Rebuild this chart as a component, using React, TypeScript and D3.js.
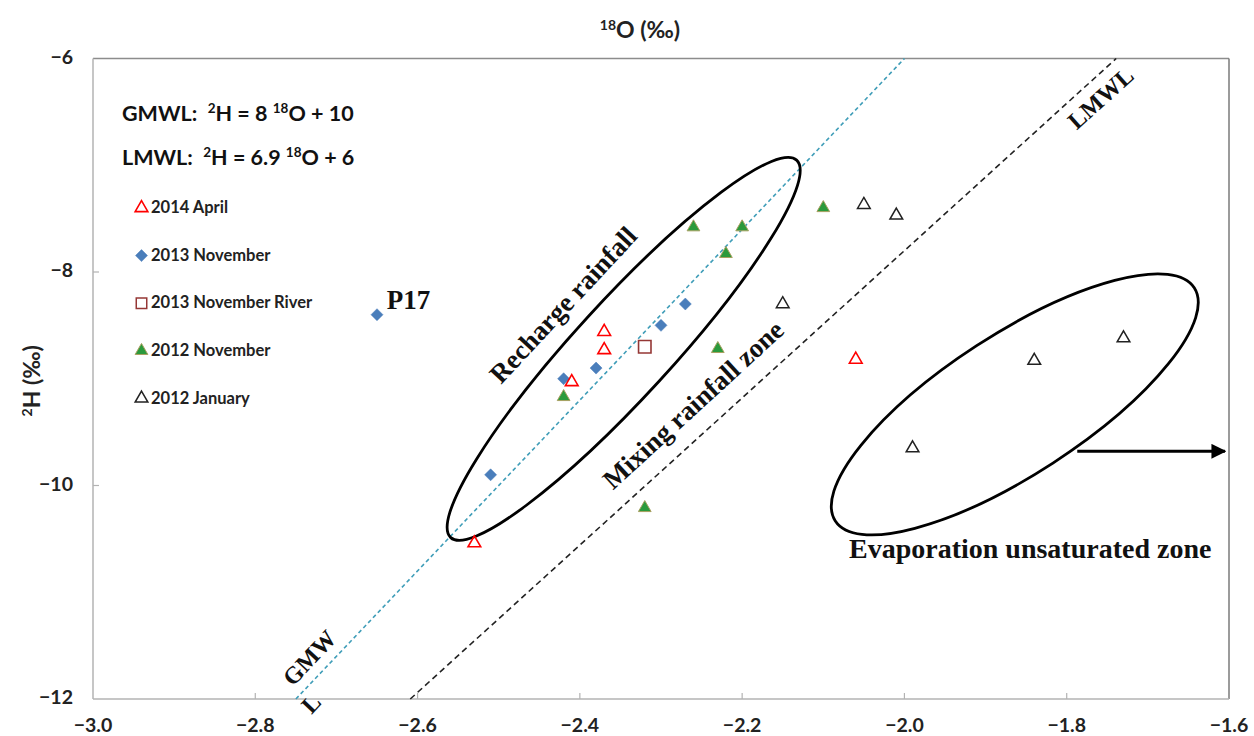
import React, { useRef, useEffect } from 'react';
import * as d3 from 'd3';

// isotope samples [d18O, d2H]
const april2014 = [[-2.37, -8.56], [-2.37, -8.73], [-2.41, -9.03], [-2.53, -10.54], [-2.06, -8.82]];
const nov2013 = [[-2.65, -8.40], [-2.51, -9.90], [-2.42, -9.00], [-2.38, -8.90], [-2.30, -8.50], [-2.27, -8.30]];
const nov2013River = [[-2.32, -8.70]];
const nov2012 = [[-2.26, -7.58], [-2.20, -7.58], [-2.22, -7.83], [-2.10, -7.40], [-2.42, -9.17], [-2.23, -8.72], [-2.32, -10.21]];
const jan2012 = [[-2.05, -7.37], [-2.01, -7.47], [-2.15, -8.30], [-1.84, -8.83], [-1.73, -8.62], [-1.99, -9.65]];

// meteoric water lines (end points)
const gmwl = [[-2.75, -12], [-2.0, -6]];
const lmwl = [[-2.609, -12], [-1.739, -6]];

const xTicks = [-3.0, -2.8, -2.6, -2.4, -2.2, -2.0, -1.8, -1.6];
const yTicks = [-6, -8, -10, -12];

const legendItems = ['2014 April', '2013 November', '2013 November River', '2012 November', '2012 January'];

const SANS = 'Lato, "Open Sans", sans-serif';
const SERIF = '"Liberation Serif", "DejaVu Serif", serif';

const App = () => {
  const svgRef = useRef(null);

  useEffect(() => {
    const width = 1254;
    const height = 736;
    const margin = { top: 58.5, right: 25, bottom: 37, left: 93 };

    const svg = d3.select(svgRef.current);
    svg.selectAll('*').remove();
    svg.attr('width', width).attr('height', height);

    const x = d3.scaleLinear().domain([-3.0, -1.6]).range([margin.left, width - margin.right]);
    const y = d3.scaleLinear().domain([-12, -6]).range([height - margin.bottom, margin.top]);

    const x0 = x(-3.0), x1 = x(-1.6), y0 = y(-12), y1 = y(-6);

    // plot frame
    svg.append('line').attr('x1', x0).attr('x2', x1).attr('y1', y1).attr('y2', y1).attr('stroke', '#8c8c8c').attr('stroke-width', 1.3);
    svg.append('line').attr('x1', x1).attr('x2', x1).attr('y1', y1).attr('y2', y0).attr('stroke', '#7a7a7a').attr('stroke-width', 1.5);
    svg.append('line').attr('x1', x0).attr('x2', x0).attr('y1', y1).attr('y2', y0).attr('stroke', '#b3b3b3').attr('stroke-width', 1.5);
    svg.append('line').attr('x1', x0).attr('x2', x1).attr('y1', y0).attr('y2', y0).attr('stroke', '#b3b3b3').attr('stroke-width', 1.5);

    // ticks (inside)
    xTicks.slice(1, -1).forEach(t => {
      svg.append('line').attr('x1', x(t)).attr('x2', x(t)).attr('y1', y0).attr('y2', y0 - 6)
        .attr('stroke', '#b3b3b3').attr('stroke-width', 1.2);
    });
    yTicks.slice(1, -1).forEach(t => {
      svg.append('line').attr('x1', x0).attr('x2', x0 + 6).attr('y1', y(t)).attr('y2', y(t))
        .attr('stroke', '#b3b3b3').attr('stroke-width', 1.2);
    });

    const minus = v => v.toString().replace('-', '\u2212');

    svg.append('g').selectAll('text').data(xTicks).enter().append('text')
      .attr('x', d => x(d)).attr('y', y0 + 28)
      .attr('text-anchor', 'middle').attr('dominant-baseline', 'middle')
      .attr('font-family', SANS).attr('font-weight', 700).attr('font-size', 19.5).attr('fill', '#222')
      .text(d => minus(d.toFixed(1)));

    svg.append('g').selectAll('text').data(yTicks).enter().append('text')
      .attr('x', x0 - 20).attr('y', d => y(d))
      .attr('text-anchor', 'end').attr('dominant-baseline', 'middle')
      .attr('font-family', SANS).attr('font-weight', 700).attr('font-size', 19.5).attr('fill', '#222')
      .text(d => minus(d));

    // axis titles
    const xt = svg.append('text').attr('x', 640).attr('y', 38).attr('text-anchor', 'middle')
      .attr('font-family', SANS).attr('font-weight', 700).attr('font-size', 23).attr('fill', '#222');
    xt.append('tspan').attr('font-size', 14).attr('dy', -8).text('18');
    xt.append('tspan').attr('dy', 8).text('O (\u2030)');

    const yt = svg.append('text').attr('transform', `translate(40,${(y0 + y1) / 2 + 2}) rotate(-90)`)
      .attr('text-anchor', 'middle')
      .attr('font-family', SANS).attr('font-weight', 700).attr('font-size', 23).attr('fill', '#222');
    yt.append('tspan').attr('font-size', 14).attr('dy', -8).text('2');
    yt.append('tspan').attr('dy', 8).text('H (\u2030)');

    // meteoric water lines
    const line = d3.line().x(d => x(d[0])).y(d => y(d[1]));
    svg.append('path').attr('d', line(gmwl)).attr('fill', 'none')
      .attr('stroke', '#3f9db8').attr('stroke-width', 1.6).attr('stroke-dasharray', '4,3');
    svg.append('path').attr('d', line(lmwl)).attr('fill', 'none')
      .attr('stroke', '#222').attr('stroke-width', 1.6).attr('stroke-dasharray', '6,4');

    // ellipses
    const ellipse = (cx, cy, rx, ry, angle) => {
      svg.append('ellipse')
        .attr('transform', `translate(${x(cx)},${y(cy)}) rotate(${angle})`)
        .attr('rx', rx).attr('ry', ry)
        .attr('fill', 'none').attr('stroke', '#000').attr('stroke-width', 2.8);
    };
    ellipse(-2.346, -8.72, 256, 48, -47.5);
    ellipse(-1.864, -9.24, 214, 70, -33);

    // arrow
    svg.append('defs').append('marker')
      .attr('id', 'arrowHead').attr('viewBox', '0 0 10 10').attr('refX', 9).attr('refY', 5)
      .attr('markerWidth', 5).attr('markerHeight', 5).attr('orient', 'auto').attr('markerUnits', 'strokeWidth')
      .append('path').attr('d', 'M0,0 L10,5 L0,10 Z').attr('fill', '#000');
    svg.append('line')
      .attr('x1', x(-1.787)).attr('y1', y(-9.68)).attr('x2', x(-1.605)).attr('y2', y(-9.68))
      .attr('stroke', '#000').attr('stroke-width', 3).attr('marker-end', 'url(#arrowHead)');

    // markers
    const tri = d3.symbol().type(d3.symbolTriangle).size(70);
    const dia = d3.symbol().type(d3.symbolSquare).size(72);
    const sq = d3.symbol().type(d3.symbolSquare).size(155);

    const drawSeries = (data, path, fill, stroke, sw, rot = 0) => {
      svg.append('g').selectAll('path').data(data).enter().append('path')
        .attr('d', path)
        .attr('transform', d => `translate(${x(d[0])},${y(d[1])}) rotate(${rot})`)
        .attr('fill', fill).attr('stroke', stroke).attr('stroke-width', sw);
    };
    drawSeries(jan2012, tri, 'none', '#222', 1.5);
    drawSeries(nov2012, tri, '#2b9a3c', '#a8a060', 1);
    drawSeries(nov2013River, sq, '#fff', '#953735', 1.6);
    drawSeries(nov2013, dia, '#4a7ebb', '#4a7ebb', 0.5, 45);
    drawSeries(april2014, tri, 'none', '#ff0000', 1.6);

    // equations
    const eq = (label, slope, icpt, yy) => {
      const t = svg.append('text').attr('x', 122).attr('y', yy)
        .attr('font-family', SANS).attr('font-weight', 700).attr('font-size', 21.5).attr('fill', '#111');
      t.append('tspan').text(`${label}:  `).attr('xml:space', 'preserve');
      t.append('tspan').attr('font-size', 13.5).attr('dy', -8).text('2');
      t.append('tspan').attr('dy', 8).text(`H = ${slope} `);
      t.append('tspan').attr('font-size', 13.5).attr('dy', -8).text('18');
      t.append('tspan').attr('dy', 8).text(`O + ${icpt}`);
    };
    eq('GMWL', 8, 10, 121);
    eq('LMWL', 6.9, 6, 165);

    // legend
    const legendMarks = [
      { path: tri, fill: 'none', stroke: '#ff0000', sw: 1.6, rot: 0 },
      { path: dia, fill: '#4a7ebb', stroke: '#4a7ebb', sw: 0.5, rot: 45 },
      { path: d3.symbol().type(d3.symbolSquare).size(110), fill: '#fff', stroke: '#953735', sw: 1.5, rot: 0 },
      { path: tri, fill: '#2b9a3c', stroke: '#a8a060', sw: 1, rot: 0 },
      { path: tri, fill: 'none', stroke: '#222', sw: 1.5, rot: 0 },
    ];
    legendItems.forEach((name, i) => {
      const ly = 208 + i * 47.6;
      const m = legendMarks[i];
      svg.append('path').attr('d', m.path)
        .attr('transform', `translate(141.5,${ly}) rotate(${m.rot})`)
        .attr('fill', m.fill).attr('stroke', m.stroke).attr('stroke-width', m.sw);
      svg.append('text').attr('x', 151).attr('y', ly + 1).attr('dominant-baseline', 'middle')
        .attr('font-family', SANS).attr('font-weight', 700).attr('font-size', 16.5).attr('fill', '#222')
        .text(name);
    });

    // annotations
    const note = (txt, cx, cy, angle, size, anchor = 'middle') => {
      svg.append('text')
        .attr('transform', `translate(${x(cx)},${y(cy)}) rotate(${angle})`)
        .attr('text-anchor', anchor).attr('dominant-baseline', 'middle')
        .attr('font-family', SERIF).attr('font-weight', 700).attr('font-size', size).attr('fill', '#111')
        .text(txt);
    };
    note('Recharge rainfall', -2.418, -8.327, -47, 27);
    note('Mixing rainfall zone', -2.258, -9.263, -42.5, 27);
    note('Evaporation unsaturated zone', -1.845, -10.62, 0, 28);
    note('P17', -2.638, -8.29, 0, 27, 'start');
    note('LMWL', -1.756, -6.389, -42, 24);
    note('GMW', -2.731, -11.63, -47, 24);
    note('L', -2.729, -12.06, -47, 24);
  }, []);

  return (
    <div style={{ position: 'absolute', left: 0, top: 0, background: '#fff' }}>
      <svg ref={svgRef}></svg>
    </div>
  );
};

export default App;
